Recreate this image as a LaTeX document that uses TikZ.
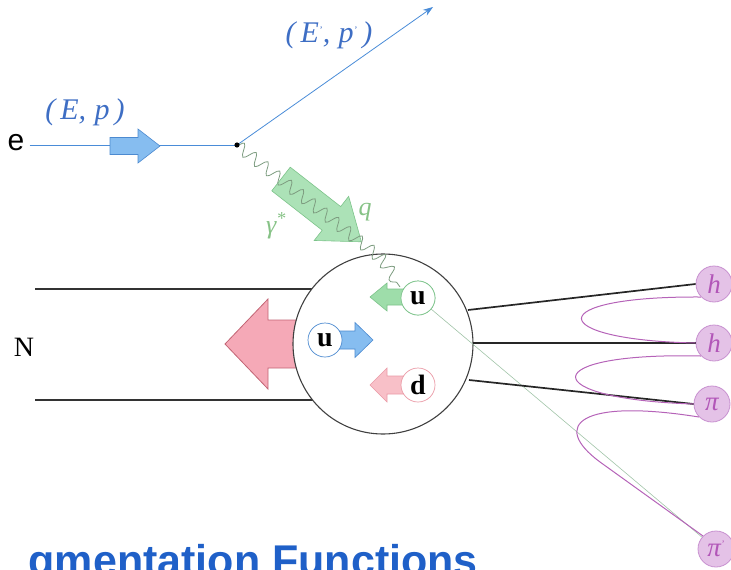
\documentclass[tikz,border=0pt]{standalone}
\usepackage{fontspec}
\setmainfont{Liberation Serif}
\newfontfamily\sansfam{Liberation Sans}
\usetikzlibrary{decorations.pathmorphing,arrows.meta}

\definecolor{elecline}{HTML}{4A8CD8}
\definecolor{eleclabel}{HTML}{3E6EC4}
\definecolor{bluefill}{HTML}{86BDF0}
\definecolor{bluedraw}{HTML}{4C8AD0}
\definecolor{greenfill}{HTML}{9EDDAA}
\definecolor{greendraw}{HTML}{7CC38A}
\definecolor{greenlabel}{HTML}{86C286}
\definecolor{photon}{HTML}{7D9C80}
\definecolor{pinkfill}{HTML}{F5A9B7}
\definecolor{pinkdraw}{HTML}{C26474}
\definecolor{lightpinkfill}{HTML}{F8C0C8}
\definecolor{lightpinkdraw}{HTML}{EB9AA6}
\definecolor{hadfill}{HTML}{E4C2E7}
\definecolor{haddraw}{HTML}{C891D0}
\definecolor{hadlabel}{HTML}{B256B8}
\definecolor{stringcol}{HTML}{B563B8}
\definecolor{titleblue}{HTML}{1F60C8}

\tikzset{
  % block arrow: length / shaft half-width / head half-width / head length
  pics/barrow/.style args={#1/#2/#3/#4}{code={
    \path[pic actions] (0,-#2) -- ({#1-#4},-#2) -- ({#1-#4},-#3) -- (#1,0)
      -- ({#1-#4},#3) -- ({#1-#4},#2) -- (0,#2) -- cycle;}},
  quark/.style={circle, minimum size=34pt, inner sep=0pt, fill=white,
    line width=0.7pt, font=\fontsize{28}{30}\selectfont\bfseries},
  hadron/.style={circle, minimum size=36pt, inner sep=0pt, fill=hadfill,
    draw=haddraw, line width=0.8pt, text=hadlabel,
    font=\fontsize{27}{29}\selectfont\itshape},
  hadline/.style={line width=1.7pt, draw=black!85},
  stringline/.style={draw=stringcol, line width=1pt},
  lbl/.style={inner sep=0pt}
}

\begin{document}
\begin{tikzpicture}[x=1pt,y=-1pt]
\useasboundingbox (0,0) rectangle (731,570);
\clip (0,0) rectangle (731,570);

% nucleon
\coordinate (nt0) at (35,289);
\coordinate (nt1) at (330,289);
\coordinate (nb0) at (35,400);
\coordinate (nb1) at (330,400);
\draw[black!80, line width=1.2pt] (nt0) -- (nt1);
\draw[black!80, line width=1.2pt] (nb0) -- (nb1);
\node[lbl, font=\fontsize{28}{30}\selectfont] (N) at (24,347) {N};

% nucleon momentum arrow
\pic[fill=pinkfill, draw=pinkdraw, line width=0.8pt, rotate=180] at (305,344) {barrow=80/24/45/43};

% nucleon circle
\node[circle, minimum size=180pt, inner sep=0pt, fill=white, draw=black!75,
      line width=1.1pt] (nuc) at (383,344) {};

% hadrons
\node[hadron] (h1) at (714,284) {h};
\node[hadron] (h2) at (714,343) {h};
\node[hadron] (pi) at (712,404) {π};
\node[hadron] (pis) at (716,549) {π\textsuperscript{\fontsize{10}{10}\selectfont'}};

% struck quark direction
\node[quark, draw=greendraw] (uq) at (418,298) {u};
\draw[greendraw!80!black!60, line width=0.6pt] (uq) -- (pis);

% hadron lines out of the nucleon
\coordinate (o1) at (468,310);
\coordinate (o2) at (473,343);
\coordinate (o3) at (469,380);
\draw[hadline] (o1) -- (h1.west);
\draw[hadline] (o2) -- (h2.west);
\draw[hadline] (o3) -- (pi.west);

% colour strings between hadrons
\draw[stringline] (h1.south west) .. controls (540,296) and (545,340) .. (h2.west);
\draw[stringline] (h2.south west) .. controls (535,352) and (535,399) .. (pi.west);
\draw[stringline] (pi.south west) .. controls (580,398) and (550,425) .. (600,462)
   -- (pis.north west);

% quarks with their momentum arrows
\pic[fill=greenfill, draw=greendraw, line width=0.6pt, rotate=180] at (404,297) {barrow=34/8/14/17};
\pic[fill=bluefill, draw=bluedraw, line width=0.6pt] at (338,340) {barrow=35/9/17.5/18};
\pic[fill=lightpinkfill, draw=lightpinkdraw, line width=0.6pt, rotate=180] at (404,385) {barrow=34/9/17/17};
\node[quark, draw=greendraw] (uq) at (418,298) {u};
\node[quark, draw=bluedraw] (ub) at (325,340) {u};
\node[quark, draw=lightpinkdraw] (dq) at (418,385) {d};

% virtual photon
\coordinate (vtx) at (237,145);
\coordinate (kink) at (378,256);
\coordinate (pend) at (400,287);
\pic[fill=greenfill, fill opacity=0.85, draw=greendraw, line width=0.6pt, rotate=-38] at (281,179) {barrow=102/15/28/38};
\draw[photon, line width=0.8pt, decorate,
      decoration={snake, segment length=15pt, amplitude=6pt}]
  (vtx) -- (kink) -- (pend);
\node[lbl, text=greenlabel, font=\fontsize{26}{28}\selectfont\itshape] (gam) at (276,226) {γ\textsuperscript{*}};
\node[lbl, text=greenlabel, font=\fontsize{26}{28}\selectfont\itshape] (q) at (365,212) {q};

% electron
\node[lbl, font=\sansfam\fontsize{30}{32}\selectfont] (e) at (16,143) {e};
\coordinate (eout) at (433,7);
\draw[elecline, line width=0.8pt] (e.east) ++(5,2) coordinate (ein) -- (vtx);
\draw[elecline, line width=0.8pt, -{Stealth[length=10pt,width=7pt]}] (vtx) -- (eout);
\pic[fill=bluefill, draw=bluedraw, line width=0.6pt] at (110,146) {barrow=50/8.5/17/22};
\fill[black] (vtx) circle (2.6pt);
\node[lbl, text=eleclabel, font=\fontsize{30}{32}\selectfont\itshape] (ep) at (85,112) {(\,E,\;p\,)};
\node[lbl, text=eleclabel, font=\fontsize{30}{32}\selectfont\itshape] (epp) at (329,35)
  {(\,E\textsuperscript{\fontsize{10}{10}\selectfont'},\;p\textsuperscript{\fontsize{10}{10}\selectfont'}\,)};

% heading
\node[anchor=base east, inner sep=0pt, text=titleblue,
      font=\sansfam\bfseries\fontsize{43}{48}\selectfont] (title) at (478,575)
  {gmentation Functions};
\end{tikzpicture}
\end{document}
